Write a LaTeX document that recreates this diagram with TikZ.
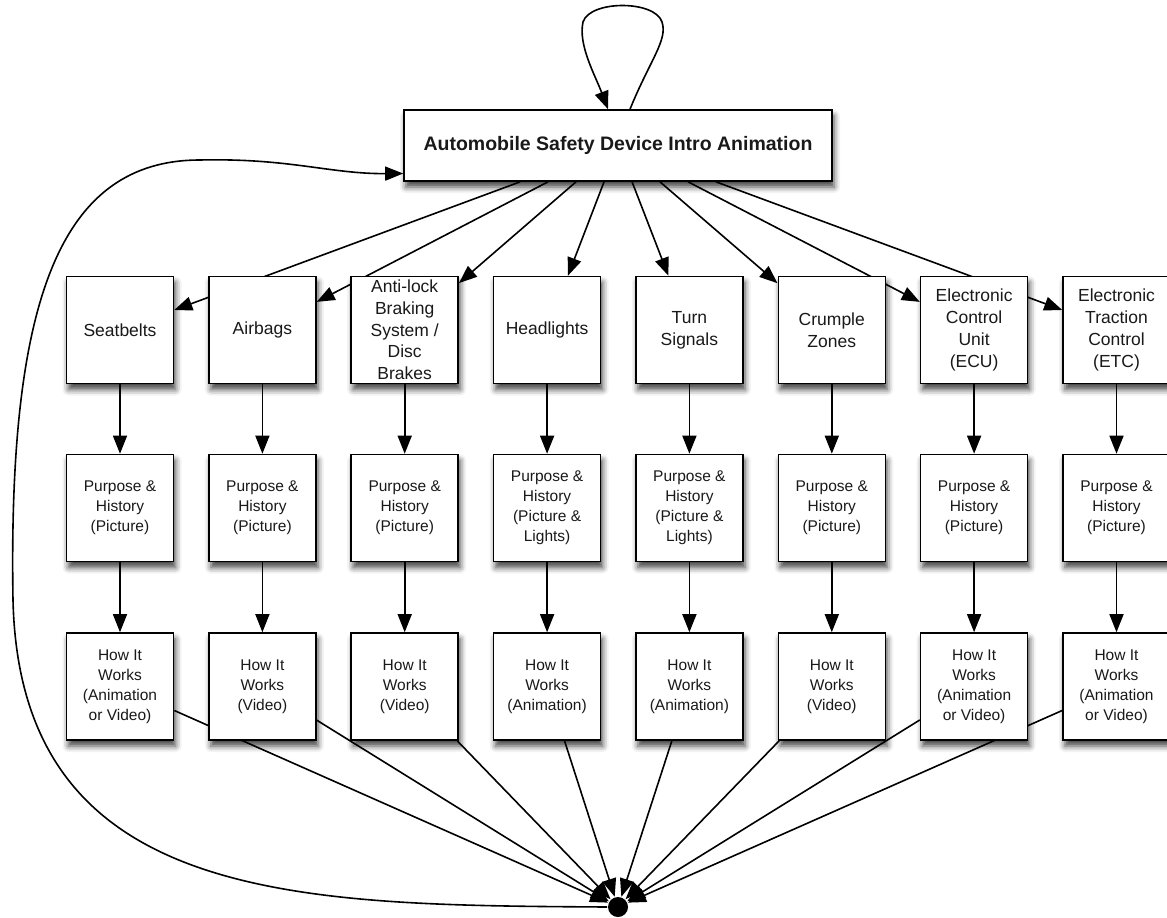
\documentclass[tikz,border=0pt]{standalone}
\usepackage{fontspec}
\setmainfont{Liberation Sans}
\usetikzlibrary{arrows.meta,shadows.blur,backgrounds}
\begin{document}
\begin{tikzpicture}[x=1pt,y=-1pt,
  >={Triangle[length=18pt,width=14pt]},
  line width=1.6pt,
  box/.style={draw, line width=1.6pt, fill=white, minimum width=107pt,
    minimum height=107pt, inner sep=0pt, align=center, text=black!90,
    blur shadow={shadow xshift=2pt, shadow yshift=-6pt, shadow blur radius=6pt, shadow opacity=75}},
  devbox/.style={box, font=\fontsize{17.5}{21.7}\selectfont},
  infobox/.style={box, font=\fontsize{15.5}{20}\selectfont},
  topbox/.style={box, minimum width=428pt, minimum height=71pt,
    font=\bfseries\fontsize{19.5}{24}\selectfont},
  edge/.style={->, line width=1.6pt}
]
\useasboundingbox (0,0) rectangle (1167,918);

\node[topbox] (top) at (618,145.5) {Automobile Safety Device Intro Animation};

% row 1
\node[devbox] (dev1) at (120,330) {Seatbelts};
\node[devbox] (dev2) at (262.4,330) {Airbags};
\node[devbox] (dev3) at (404.7,330) {Anti-lock\\Braking\\System /\\Disc\\Brakes};
\node[devbox] (dev4) at (547.1,330) {Headlights};
\node[devbox] (dev5) at (689.4,330) {Turn\\Signals};
\node[devbox] (dev6) at (831.8,330) {Crumple\\Zones};
\node[devbox] (dev7) at (974.1,330) {Electronic\\Control\\Unit\\(ECU)};
\node[devbox] (dev8) at (1116.5,330) {Electronic\\Traction\\Control\\(ETC)};

% row 2
\node[infobox] (pur1) at (120,508) {Purpose \&\\History\\(Picture)};
\node[infobox] (pur2) at (262.4,508) {Purpose \&\\History\\(Picture)};
\node[infobox] (pur3) at (404.7,508) {Purpose \&\\History\\(Picture)};
\node[infobox] (pur4) at (547.1,508) {Purpose \&\\History\\(Picture \&\\Lights)};
\node[infobox] (pur5) at (689.4,508) {Purpose \&\\History\\(Picture \&\\Lights)};
\node[infobox] (pur6) at (831.8,508) {Purpose \&\\History\\(Picture)};
\node[infobox] (pur7) at (974.1,508) {Purpose \&\\History\\(Picture)};
\node[infobox] (pur8) at (1116.5,508) {Purpose \&\\History\\(Picture)};

% row 3
\node[infobox] (how1) at (120,686.5) {How It\\Works\\(Animation\\or Video)};
\node[infobox] (how2) at (262.4,686.5) {How It\\Works\\(Video)};
\node[infobox] (how3) at (404.7,686.5) {How It\\Works\\(Video)};
\node[infobox] (how4) at (547.1,686.5) {How It\\Works\\(Animation)};
\node[infobox] (how5) at (689.4,686.5) {How It\\Works\\(Animation)};
\node[infobox] (how6) at (831.8,686.5) {How It\\Works\\(Video)};
\node[infobox] (how7) at (974.1,686.5) {How It\\Works\\(Animation\\or Video)};
\node[infobox] (how8) at (1116.5,686.5) {How It\\Works\\(Animation\\or Video)};

% junction
\node[circle, fill=black, minimum size=20pt, inner sep=0pt] (junc) at (618,907) {};

\begin{pgfonlayer}{background}
  \foreach \i in {1,...,8} {
    \draw[edge] (top) -- (dev\i);
    \draw[edge] (dev\i) -- (pur\i);
    \draw[edge] (pur\i) -- (how\i);
    \draw[edge] (how\i) -- (junc);
  }
\end{pgfonlayer}

% self loop
\draw[edge] ([xshift=12pt]top.north) .. controls (650,60) and (668,40) .. (662,22)
  .. controls (655,0) and (590,0) .. (583,22)
  .. controls (578,45) and (595,75) .. ([xshift=-10pt]top.north);

% return curve
\draw[edge] (junc.west) .. controls (300,905) and (20,905) .. (13,600)
  .. controls (8,300) and (60,160) .. (200,160)
  .. controls (290,158) and (330,174) .. ([yshift=-28pt]top.west);
\end{tikzpicture}
\end{document}
